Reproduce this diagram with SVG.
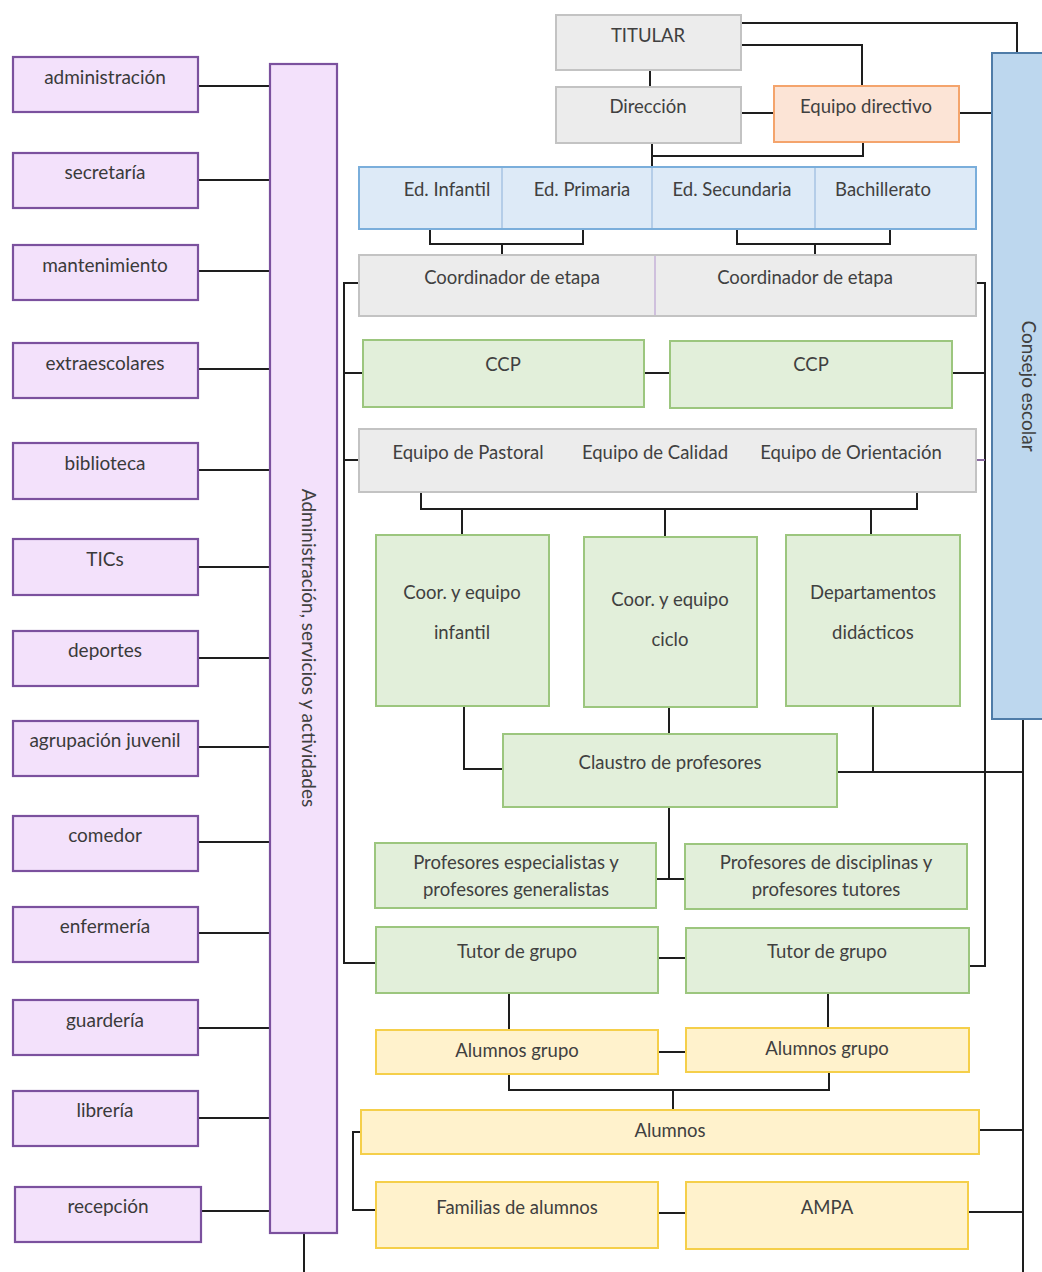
<svg xmlns="http://www.w3.org/2000/svg" width="1042" height="1272" viewBox="0 0 1042 1272">
<style>
.t{font-family:Lato,"Open Sans","Liberation Sans",sans-serif;font-size:18.5px;fill:#404040;text-anchor:middle}
.l{font-family:Lato,"Open Sans","Liberation Sans",sans-serif;font-size:19px;fill:#3a3a3a;text-anchor:middle}
.v{font-family:Lato,"Open Sans","Liberation Sans",sans-serif;font-size:19px;fill:#404040;text-anchor:middle}
.gray{fill:#ececec;stroke:#c3c3c3;stroke-width:2}
.org{fill:#fce4d6;stroke:#f4a46c;stroke-width:2}
.blue{fill:#ddeaf7;stroke:#7aaedb;stroke-width:2}
.cons{fill:#bdd7ee;stroke:#4f7ca8;stroke-width:2}
.grn{fill:#e2efda;stroke:#9cc67e;stroke-width:2}
.yel{fill:#fff2cc;stroke:#f5cf4a;stroke-width:2}
.pur{fill:#f3e1fb;stroke:#7b519e;stroke-width:2.2}
.c{fill:none;stroke:#1e1e1e;stroke-width:2}
</style>
<rect width="1042" height="1272" fill="#ffffff"/>
<g id="connectors">
  <path class="c" d="M198 86H270M198 180H270M198 271H270M198 369H270M198 470H270M198 567H270M198 658H270M198 747H270M198 842H270M198 933H270M198 1028H270M198 1118H270M201 1211H270"/>
  <path class="c" d="M304 1233V1272"/>
  <path class="c" d="M650 70V87"/>
  <path class="c" d="M741 113H774"/>
  <path class="c" d="M741 45H862V86"/>
  <path class="c" d="M741 23H1017V53"/>
  <path class="c" d="M959 113H992"/>
  <path class="c" d="M652 143V168M652 156H863V142"/>
  <path class="c" d="M430 229V244H583V229M502 244V255"/>
  <path class="c" d="M737 229V244H890V229M815 244V255"/>
  <path class="c" d="M359 283H344V963H376"/>
  <path class="c" d="M344 373H363M344 460H359"/>
  <path class="c" d="M976 283H985V966H969"/>
  <path class="c" d="M952 373H985"/>
  <path d="M976 460H985" fill="none" stroke="#8a6aa0" stroke-width="2"/>
  <path class="c" d="M644 373H670"/>
  <path class="c" d="M421 492V509H917V492M462 509V535M665 509V537M871 509V535"/>
  <path class="c" d="M464 706V769H503M669 707V734M873 706V772"/>
  <path class="c" d="M837 772H1023"/>
  <path class="c" d="M1023 719V1272"/>
  <path class="c" d="M979 1130H1023M968 1212H1023"/>
  <path class="c" d="M669 807V879M656 879H685"/>
  <path class="c" d="M658 958H686" stroke-width="3"/>
  <path class="c" d="M509 993V1030M828 993V1028"/>
  <path class="c" d="M658 1052H686"/>
  <path class="c" d="M509 1074V1090H829V1072M673 1090V1110"/>
  <path class="c" d="M361 1132H353V1210H376"/>
  <path class="c" d="M658 1213H686"/>
</g>
<g id="services-column"><rect class="pur" x="270" y="64" width="67" height="1169"/><text class="v" transform="translate(302 648) rotate(90)">Administración, servicios y actividades</text></g>
<g id="n-administracion"><rect class="pur" x="13" y="57" width="185" height="55"/><text class="l" x="105" y="84">administración</text></g>
<g id="n-secretaria"><rect class="pur" x="13" y="153" width="185" height="55"/><text class="l" x="105" y="179">secretaría</text></g>
<g id="n-mantenimiento"><rect class="pur" x="13" y="245" width="185" height="55"/><text class="l" x="105" y="272">mantenimiento</text></g>
<g id="n-extraescolares"><rect class="pur" x="13" y="343" width="185" height="55"/><text class="l" x="105" y="370">extraescolares</text></g>
<g id="n-biblioteca"><rect class="pur" x="13" y="443" width="185" height="56"/><text class="l" x="105" y="470">biblioteca</text></g>
<g id="n-tics"><rect class="pur" x="13" y="539" width="185" height="56"/><text class="l" x="105" y="566">TICs</text></g>
<g id="n-deportes"><rect class="pur" x="13" y="631" width="185" height="55"/><text class="l" x="105" y="657">deportes</text></g>
<g id="n-agrupacion"><rect class="pur" x="13" y="721" width="185" height="55"/><text class="l" x="105" y="747">agrupación juvenil</text></g>
<g id="n-comedor"><rect class="pur" x="13" y="816" width="185" height="55"/><text class="l" x="105" y="842">comedor</text></g>
<g id="n-enfermeria"><rect class="pur" x="13" y="907" width="185" height="55"/><text class="l" x="105" y="933">enfermería</text></g>
<g id="n-guarderia"><rect class="pur" x="13" y="1000" width="185" height="55"/><text class="l" x="105" y="1027">guardería</text></g>
<g id="n-libreria"><rect class="pur" x="13" y="1091" width="185" height="55"/><text class="l" x="105" y="1117">librería</text></g>
<g id="n-recepcion"><rect class="pur" x="15" y="1187" width="186" height="55"/><text class="l" x="108" y="1213">recepción</text></g>

<g id="n-titular"><rect class="gray" x="556" y="15" width="185" height="55"/><text class="t" x="648" y="42">TITULAR</text></g>
<g id="n-direccion"><rect class="gray" x="556" y="87" width="185" height="56"/><text class="t" x="648" y="113">Dirección</text></g>
<g id="n-equipo-directivo"><rect class="org" x="774" y="86" width="185" height="56"/><text class="t" x="866" y="113">Equipo directivo</text></g>
<g id="n-consejo"><rect class="cons" x="992" y="53" width="52" height="666"/><text class="v" transform="translate(1022 386) rotate(90)">Consejo escolar</text></g>

<g id="n-etapas"><rect class="blue" x="359" y="167" width="617" height="62"/>
  <path d="M502 168V228M652 168V228M815 168V228" stroke="#a7c3e3" stroke-width="1.5"/>
  <text class="t" x="447" y="196">Ed. Infantil</text><text class="t" x="582" y="196">Ed. Primaria</text><text class="t" x="732" y="196">Ed. Secundaria</text><text class="t" x="883" y="196">Bachillerato</text></g>
<g id="n-coordinadores"><rect class="gray" x="359" y="255" width="617" height="61"/>
  <path d="M655 256V315" stroke="#c6b2d8" stroke-width="1.5"/>
  <text class="t" x="512" y="284">Coordinador de etapa</text><text class="t" x="805" y="284">Coordinador de etapa</text></g>
<g id="n-ccp1"><rect class="grn" x="363" y="340" width="281" height="67"/><text class="t" x="503" y="371">CCP</text></g>
<g id="n-ccp2"><rect class="grn" x="670" y="341" width="282" height="67"/><text class="t" x="811" y="371">CCP</text></g>
<g id="n-equipos"><rect class="gray" x="359" y="429" width="617" height="63"/>
  <text class="t" x="468" y="459">Equipo de Pastoral</text><text class="t" x="655" y="459">Equipo de Calidad</text><text class="t" x="851" y="459">Equipo de Orientación</text></g>
<g id="n-coor-infantil"><rect class="grn" x="376" y="535" width="173" height="171"/><text class="t" x="462" y="599">Coor. y equipo</text><text class="t" x="462" y="639">infantil</text></g>
<g id="n-coor-ciclo"><rect class="grn" x="584" y="537" width="173" height="170"/><text class="t" x="670" y="606">Coor. y equipo</text><text class="t" x="670" y="646">ciclo</text></g>
<g id="n-departamentos"><rect class="grn" x="786" y="535" width="174" height="171"/><text class="t" x="873" y="599">Departamentos</text><text class="t" x="873" y="639">didácticos</text></g>
<g id="n-claustro"><rect class="grn" x="503" y="734" width="334" height="73"/><text class="t" x="670" y="769">Claustro de profesores</text></g>
<g id="n-prof-esp"><rect class="grn" x="375" y="843" width="281" height="65"/><text class="t" x="516" y="869">Profesores especialistas y</text><text class="t" x="516" y="896">profesores generalistas</text></g>
<g id="n-prof-disc"><rect class="grn" x="685" y="844" width="282" height="65"/><text class="t" x="826" y="869">Profesores de disciplinas y</text><text class="t" x="826" y="896">profesores tutores</text></g>
<g id="n-tutor1"><rect class="grn" x="376" y="927" width="282" height="66"/><text class="t" x="517" y="958">Tutor de grupo</text></g>
<g id="n-tutor2"><rect class="grn" x="686" y="928" width="283" height="65"/><text class="t" x="827" y="958">Tutor de grupo</text></g>
<g id="n-alumnos-grupo1"><rect class="yel" x="376" y="1030" width="282" height="44"/><text class="t" x="517" y="1057">Alumnos grupo</text></g>
<g id="n-alumnos-grupo2"><rect class="yel" x="686" y="1028" width="283" height="44"/><text class="t" x="827" y="1055">Alumnos grupo</text></g>
<g id="n-alumnos"><rect class="yel" x="361" y="1110" width="618" height="44"/><text class="t" x="670" y="1137">Alumnos</text></g>
<g id="n-familias"><rect class="yel" x="376" y="1182" width="282" height="66"/><text class="t" x="517" y="1214">Familias de alumnos</text></g>
<g id="n-ampa"><rect class="yel" x="686" y="1182" width="282" height="67"/><text class="t" x="827" y="1214">AMPA</text></g>
</svg>
